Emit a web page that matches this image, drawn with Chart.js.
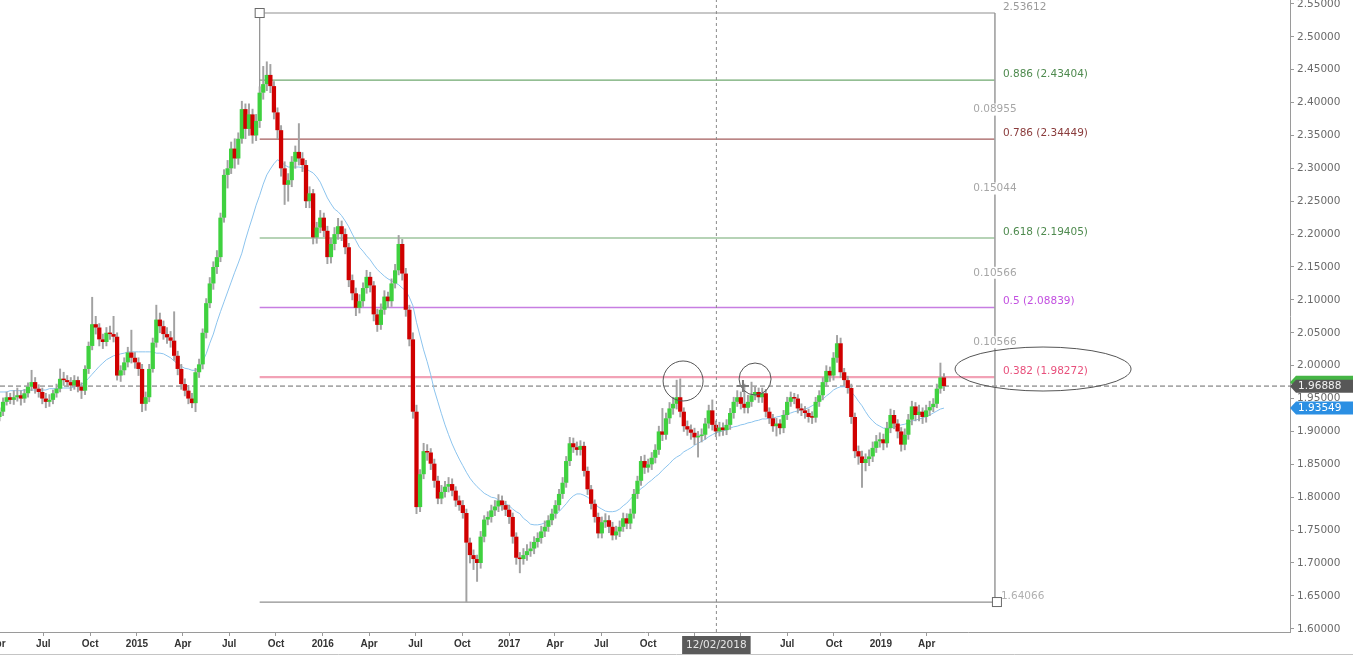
<!DOCTYPE html>
<html><head><meta charset="utf-8">
<script src="https://cdn.jsdelivr.net/npm/chart.js@4.4.1/dist/chart.umd.min.js"></script>
<style>html,body{margin:0;padding:0;background:#fff;overflow:hidden}canvas{display:block}</style>
</head><body>
<canvas id="c" width="1353" height="656"></canvas>
<script>
// ---- DATA (weekly candles, week 0 = 2014-04-06) ----
const startDate = '2014-04-06';
const opens = [1.922,1.930,1.945,1.952,1.948,1.952,1.955,1.950,1.958,1.968,
1.975,1.965,1.960,1.950,1.945,1.948,1.958,1.965,1.980,1.978,
1.975,1.970,1.978,1.968,1.962,1.995,2.030,2.063,2.058,2.040,
2.036,2.050,2.048,2.044,1.985,1.993,2.005,2.020,2.012,2.005,
1.995,1.942,1.952,1.995,2.035,2.070,2.060,2.048,2.043,2.038,
2.015,1.995,1.972,1.962,1.950,1.943,1.990,2.002,2.050,2.095,
2.125,2.150,2.165,2.225,2.290,2.300,2.330,2.315,2.345,2.390,
2.360,2.382,2.350,2.372,2.415,2.428,2.442,2.425,2.385,2.358,
2.300,2.275,2.282,2.310,2.325,2.315,2.305,2.250,2.262,2.195,
2.210,2.225,2.205,2.165,2.185,2.200,2.212,2.200,2.180,2.130,
2.110,2.088,2.098,2.118,2.135,2.122,2.078,2.062,2.085,2.105,
2.098,2.125,2.145,2.185,2.140,2.085,2.040,1.930,1.785,1.835,
1.870,1.868,1.851,1.825,1.798,1.808,1.816,1.820,1.810,1.795,
1.788,1.776,1.731,1.712,1.706,1.700,1.740,1.766,1.770,1.780,
1.786,1.795,1.788,1.781,1.770,1.740,1.708,1.706,1.712,1.718,
1.722,1.732,1.738,1.748,1.755,1.765,1.775,1.788,1.805,1.822,
1.855,1.882,1.876,1.872,1.878,1.840,1.812,1.790,1.770,1.745,
1.762,1.765,1.755,1.742,1.748,1.755,1.768,1.760,1.775,1.805,
1.825,1.855,1.845,1.850,1.860,1.872,1.900,1.895,1.920,1.935,
1.942,1.952,1.930,1.908,1.903,1.898,1.891,1.893,1.895,1.912,
1.932,1.910,1.900,1.906,1.902,1.910,1.928,1.945,1.952,1.942,
1.936,1.945,1.955,1.960,1.952,1.958,1.930,1.920,1.908,1.912,
1.905,1.925,1.945,1.952,1.950,1.935,1.932,1.928,1.922,1.921,
1.945,1.955,1.975,1.992,1.985,2.012,2.034,1.990,1.978,1.966,
1.922,1.870,1.862,1.852,1.858,1.862,1.875,1.885,1.888,1.882,
1.905,1.925,1.912,1.900,1.880,1.895,1.918,1.938,1.925,1.930,
1.922,1.932,1.937,1.942,1.965,1.982];
const highs = [1.936,1.951,1.960,1.958,1.962,1.966,1.962,1.964,1.974,1.993,
1.982,1.971,1.966,1.958,1.956,1.963,1.972,1.995,1.990,1.985,
1.982,1.985,1.983,1.974,2.000,2.036,2.104,2.075,2.064,2.048,
2.058,2.060,2.075,2.050,2.000,2.012,2.028,2.054,2.020,2.012,
2.002,1.960,2.002,2.042,2.092,2.080,2.068,2.058,2.052,2.082,
2.022,2.002,1.980,1.970,1.958,1.996,2.010,2.056,2.102,2.134,
2.158,2.175,2.232,2.298,2.312,2.340,2.345,2.354,2.402,2.398,
2.398,2.390,2.382,2.424,2.455,2.462,2.458,2.432,2.392,2.365,
2.310,2.292,2.318,2.334,2.368,2.324,2.312,2.272,2.268,2.218,
2.236,2.232,2.212,2.194,2.210,2.224,2.220,2.208,2.186,2.138,
2.118,2.108,2.126,2.145,2.142,2.128,2.086,2.094,2.114,2.112,
2.132,2.154,2.198,2.192,2.148,2.092,2.050,1.940,1.842,1.882,
1.880,1.874,1.858,1.832,1.818,1.824,1.830,1.828,1.816,1.802,
1.795,1.782,1.738,1.720,1.712,1.748,1.772,1.778,1.788,1.795,
1.804,1.802,1.794,1.788,1.776,1.746,1.716,1.722,1.728,1.732,
1.740,1.746,1.756,1.764,1.772,1.782,1.795,1.812,1.830,1.862,
1.891,1.890,1.884,1.886,1.884,1.846,1.818,1.796,1.776,1.770,
1.775,1.772,1.762,1.756,1.764,1.776,1.775,1.782,1.812,1.832,
1.862,1.864,1.858,1.868,1.880,1.908,1.935,1.928,1.944,1.952,
1.978,1.980,1.936,1.916,1.910,1.905,1.900,1.904,1.920,1.940,
1.948,1.916,1.914,1.913,1.918,1.935,1.952,1.962,1.960,1.972,
1.955,1.975,1.968,1.966,1.966,1.964,1.936,1.926,1.920,1.918,
1.932,1.952,1.960,1.958,1.956,1.942,1.938,1.934,1.930,1.952,
1.962,1.982,2.000,1.998,2.020,2.046,2.042,1.996,1.984,1.972,
1.928,1.878,1.870,1.866,1.872,1.884,1.894,1.898,1.896,1.914,
1.934,1.932,1.918,1.906,1.904,1.926,1.946,1.944,1.940,1.936,
1.940,1.946,1.950,1.972,2.004,1.988];
const lows = [1.916,1.924,1.940,1.942,1.941,1.946,1.940,1.944,1.952,1.962,
1.958,1.952,1.942,1.936,1.938,1.942,1.952,1.960,1.970,1.968,
1.962,1.964,1.960,1.950,1.956,1.988,2.024,2.048,2.030,2.026,
2.030,2.040,2.036,1.978,1.976,1.986,1.998,2.004,1.996,1.985,
1.930,1.932,1.945,1.990,2.028,2.050,2.040,2.034,2.028,2.008,
1.986,1.964,1.954,1.942,1.936,1.930,1.982,1.995,2.042,2.088,
2.116,2.140,2.158,2.218,2.270,2.292,2.300,2.306,2.338,2.345,
2.350,2.338,2.342,2.362,2.405,2.418,2.415,2.375,2.345,2.288,
2.245,2.250,2.272,2.300,2.305,2.295,2.240,2.240,2.185,2.186,
2.202,2.196,2.155,2.156,2.176,2.192,2.190,2.170,2.120,2.100,
2.076,2.080,2.090,2.110,2.112,2.068,2.052,2.055,2.078,2.088,
2.090,2.118,2.138,2.130,2.075,2.030,1.920,1.775,1.778,1.828,
1.856,1.842,1.815,1.790,1.790,1.800,1.808,1.802,1.786,1.780,
1.768,1.641,1.700,1.690,1.672,1.692,1.732,1.758,1.762,1.772,
1.778,1.780,1.772,1.760,1.730,1.698,1.685,1.698,1.704,1.710,
1.714,1.724,1.730,1.740,1.748,1.758,1.768,1.780,1.798,1.815,
1.848,1.868,1.864,1.864,1.832,1.804,1.782,1.762,1.738,1.738,
1.754,1.746,1.735,1.736,1.740,1.748,1.752,1.752,1.768,1.798,
1.818,1.836,1.838,1.842,1.852,1.865,1.886,1.888,1.912,1.926,
1.934,1.922,1.900,1.894,1.888,1.880,1.861,1.884,1.888,1.905,
1.902,1.892,1.893,1.894,1.895,1.903,1.920,1.938,1.934,1.928,
1.928,1.938,1.948,1.944,1.944,1.922,1.912,1.900,1.893,1.896,
1.898,1.918,1.938,1.942,1.928,1.924,1.920,1.914,1.912,1.914,
1.938,1.948,1.968,1.976,1.978,2.005,1.982,1.970,1.958,1.912,
1.860,1.850,1.815,1.840,1.848,1.854,1.868,1.876,1.872,1.876,
1.898,1.904,1.890,1.870,1.872,1.888,1.910,1.916,1.916,1.912,
1.914,1.924,1.930,1.936,1.958,1.962];
const closes = [1.930,1.945,1.952,1.948,1.952,1.955,1.950,1.958,1.968,1.975,
1.965,1.960,1.950,1.945,1.948,1.958,1.965,1.980,1.978,1.975,
1.970,1.978,1.968,1.962,1.995,2.030,2.063,2.058,2.040,2.036,
2.050,2.048,2.044,1.985,1.993,2.005,2.020,2.012,2.005,1.995,
1.942,1.952,1.995,2.035,2.070,2.060,2.048,2.043,2.038,2.015,
1.995,1.972,1.962,1.950,1.943,1.990,2.002,2.050,2.095,2.125,
2.150,2.165,2.225,2.290,2.300,2.330,2.315,2.345,2.390,2.360,
2.382,2.350,2.372,2.415,2.428,2.442,2.425,2.385,2.358,2.300,
2.275,2.282,2.310,2.325,2.315,2.305,2.250,2.262,2.195,2.210,
2.225,2.205,2.165,2.185,2.200,2.212,2.200,2.180,2.130,2.110,
2.088,2.098,2.118,2.135,2.122,2.078,2.062,2.085,2.105,2.098,
2.125,2.145,2.185,2.140,2.085,2.040,1.930,1.785,1.835,1.870,
1.868,1.851,1.825,1.798,1.808,1.816,1.820,1.810,1.795,1.788,
1.776,1.731,1.712,1.706,1.700,1.740,1.766,1.770,1.780,1.786,
1.795,1.788,1.781,1.770,1.740,1.708,1.706,1.712,1.718,1.722,
1.732,1.738,1.748,1.755,1.765,1.775,1.788,1.805,1.822,1.855,
1.882,1.876,1.872,1.878,1.840,1.812,1.790,1.770,1.745,1.762,
1.765,1.755,1.742,1.748,1.755,1.768,1.760,1.775,1.805,1.825,
1.855,1.845,1.850,1.860,1.872,1.900,1.895,1.920,1.935,1.942,
1.952,1.930,1.908,1.903,1.898,1.891,1.893,1.895,1.912,1.932,
1.910,1.900,1.906,1.902,1.910,1.928,1.945,1.952,1.942,1.936,
1.945,1.955,1.960,1.952,1.958,1.930,1.920,1.908,1.912,1.905,
1.925,1.945,1.952,1.950,1.935,1.932,1.928,1.922,1.921,1.945,
1.955,1.975,1.992,1.985,2.012,2.034,1.990,1.978,1.966,1.922,
1.870,1.862,1.852,1.858,1.862,1.875,1.885,1.888,1.882,1.905,
1.925,1.912,1.900,1.880,1.895,1.918,1.938,1.925,1.930,1.922,
1.932,1.937,1.942,1.965,1.982,1.96888];
const maValues = [1.960,1.960,1.960,1.962,1.962,1.962,1.962,1.963,1.963,1.963,
1.963,1.963,1.963,1.963,1.965,1.965,1.965,1.966,1.966,1.966,
1.966,1.968,1.969,1.972,1.975,1.981,1.987,1.993,1.999,2.004,
2.009,2.012,2.015,2.016,2.018,2.019,2.021,2.021,2.021,2.021,
2.021,2.021,2.021,2.021,2.019,2.019,2.018,2.015,2.012,2.007,
2.003,1.999,1.996,1.995,1.993,1.993,1.996,2.006,2.018,2.034,
2.048,2.066,2.082,2.097,2.112,2.127,2.142,2.156,2.171,2.191,
2.209,2.226,2.244,2.259,2.276,2.290,2.299,2.307,2.313,2.310,
2.305,2.302,2.302,2.302,2.302,2.301,2.299,2.296,2.293,2.287,
2.279,2.267,2.255,2.246,2.238,2.234,2.228,2.220,2.211,2.200,
2.190,2.180,2.174,2.167,2.161,2.153,2.146,2.141,2.136,2.132,
2.129,2.126,2.123,2.118,2.114,2.104,2.091,2.066,2.045,2.024,
2.006,1.986,1.963,1.945,1.927,1.910,1.895,1.881,1.869,1.858,
1.848,1.838,1.829,1.822,1.816,1.811,1.806,1.803,1.800,1.799,
1.796,1.793,1.790,1.787,1.782,1.778,1.775,1.768,1.764,1.759,
1.758,1.758,1.759,1.761,1.764,1.768,1.773,1.778,1.784,1.790,
1.797,1.802,1.805,1.805,1.803,1.800,1.796,1.791,1.785,1.782,
1.779,1.778,1.778,1.779,1.782,1.787,1.791,1.797,1.803,1.808,
1.813,1.817,1.822,1.826,1.831,1.835,1.841,1.846,1.851,1.857,
1.861,1.864,1.869,1.872,1.875,1.879,1.882,1.885,1.888,1.892,
1.895,1.898,1.899,1.901,1.902,1.905,1.907,1.908,1.910,1.911,
1.913,1.914,1.916,1.917,1.919,1.919,1.920,1.920,1.922,1.923,
1.925,1.927,1.928,1.930,1.931,1.933,1.934,1.936,1.939,1.942,
1.946,1.949,1.954,1.958,1.963,1.966,1.968,1.968,1.966,1.960,
1.954,1.946,1.939,1.930,1.922,1.916,1.911,1.908,1.905,1.905,
1.905,1.907,1.908,1.910,1.911,1.913,1.916,1.917,1.919,1.920,
1.923,1.925,1.928,1.931,1.934,1.93549];
const xTickDates = ['2014-04-01','2014-07-01','2014-10-01','2015-01-01','2015-04-01','2015-07-01','2015-10-01','2016-01-01','2016-04-01','2016-07-01','2016-10-01','2017-01-01','2017-04-01','2017-07-01','2017-10-01','2018-01-01','2018-04-01','2018-07-01','2018-10-01','2019-01-01','2019-04-01'];
const xTickLabels = ['Apr','Jul','Oct','2015','Apr','Jul','Oct','2016','Apr','Jul','Oct','2017','Apr','Jul','Oct','2018','Apr','Jul','Oct','2019','Apr'];
const yTickValues = [1.60,1.65,1.70,1.75,1.80,1.85,1.90,1.95,2.00,2.05,2.10,2.15,2.20,2.25,2.30,2.35,2.40,2.45,2.50,2.55];
const fibHigh = 2.53612, fibLow = 1.64066;
const fibRatioLabels = ['0.886','0.786','0.618','0.5','0.382'];
const fibPrices = [2.43404,2.34449,2.19405,2.08839,1.98272];
const fibGapLabels = ['0.08955','0.15044','0.10566','0.10566'];
const lastPrice = 1.96888, maLast = 1.93549;
const crosshairDate = '2018-02-12', crosshairLabel = '12/02/2018';

// ---- layout / style ----
const X_MIN = 0.14, X_MAX = 362.09, Y_MIN = 1.5951, Y_MAX = 2.5559;
const fibStartIdx = 73, fibEndIdx = 279.3, fibAnchorLow = 2.40;
const GREEN = '#3fd13f', RED = '#d00000', WICK = '#a2a2a2';
const fibLineColors = ['#6fa86f','#a35c5c','#6fa86f','#c77ee2','#f2a2b6'];
const fibTextColors = ['#4e8a4e','#8a3c3c','#4e8a4e','#c24fe0','#e8507c'];
const fibLineWidths = [1.2,1.2,1.2,1.5,2.2];

const dayMs = 864e5;
const weekIdx = d => (Date.parse(d) - Date.parse(startDate)) / (7 * dayMs);
const xTickIdx = xTickDates.map(weekIdx);
const crossIdx = weekIdx(crosshairDate);

const bodyData = closes.map((c, i) => ({x: i, y: [opens[i], c]}));
const wickData = closes.map((c, i) => ({x: i, y: [lows[i], highs[i]]}));
const bodyColors = closes.map((c, i) => c >= opens[i] ? GREEN : RED);
const maData = maValues.map((v, i) => ({x: i, y: v}));

const lineDs = (data, color, width, order, dash) => ({type: 'line', data, borderColor: color, borderWidth: width, pointRadius: 0, borderDash: dash || [], order, fill: false, tension: 0});

const datasets = [
  lineDs([{x: crossIdx, y: Y_MIN}, {x: crossIdx, y: Y_MAX}], '#8a8a8a', 1, -1, [3, 3]),
  {type: 'bar', data: bodyData, backgroundColor: bodyColors, grouped: false, barPercentage: 1.2, categoryPercentage: 1, minBarLength: 1.5, order: 0},
  {type: 'bar', data: wickData, backgroundColor: WICK, grouped: false, maxBarThickness: 1.3, barPercentage: 1, categoryPercentage: 1, order: 1},
  lineDs(maData, '#8cc4ee', 1, 2),
  lineDs([{x: X_MIN, y: lastPrice}, {x: X_MAX, y: lastPrice}], '#a9a9a9', 1.6, 6, [5, 3]),
  lineDs([{x: fibStartIdx, y: fibHigh}, {x: fibEndIdx, y: fibHigh}], '#8f8f8f', 1.2, 3),
  lineDs([{x: fibStartIdx, y: fibLow}, {x: fibEndIdx, y: fibLow}], '#8f8f8f', 1.2, 3),
  lineDs([{x: fibStartIdx, y: fibHigh}, {x: fibStartIdx, y: fibAnchorLow}], '#8f8f8f', 1.2, 3),
  lineDs([{x: fibEndIdx, y: fibHigh}, {x: fibEndIdx, y: fibLow}], '#a0a0a0', 1.6, 3),
];
fibPrices.forEach((p, k) => datasets.push(lineDs([{x: fibStartIdx, y: p}, {x: fibEndIdx, y: p}], fibLineColors[k], fibLineWidths[k], 4)));

const FONT = '"DejaVu Sans", sans-serif';

function tag(ctx, x0, x1, yc, h, bg, text, fg) {
  ctx.beginPath();
  ctx.moveTo(x0, yc); ctx.lineTo(x0 + 6, yc - h / 2); ctx.lineTo(x1, yc - h / 2);
  ctx.lineTo(x1, yc + h / 2); ctx.lineTo(x0 + 6, yc + h / 2); ctx.closePath();
  ctx.fillStyle = bg; ctx.fill();
  if (text) {
    ctx.fillStyle = fg; ctx.font = '10.5px ' + FONT; ctx.textAlign = 'left'; ctx.textBaseline = 'middle';
    ctx.fillText(text, x0 + 8, yc + 0.5);
  }
}

const overlay = {
  id: 'overlay',
  afterDatasetsDraw(chart) {
    const {ctx, scales: {x, y}} = chart;
    const X = v => x.getPixelForValue(v), Y = v => y.getPixelForValue(v);
    ctx.save();
    const vx = X(fibEndIdx);
    ctx.font = '10.5px ' + FONT; ctx.textAlign = 'left'; ctx.textBaseline = 'middle';
    fibPrices.forEach((p, k) => {
      ctx.fillStyle = fibTextColors[k];
      ctx.fillText(fibRatioLabels[k] + ' (' + p.toFixed(5) + ')', vx + 8, Y(p) - 6);
    });
    ctx.fillStyle = '#9a9a9a';
    ctx.fillText(fibHigh.toFixed(5), vx + 8, Y(fibHigh) - 6);
    ctx.fillStyle = '#b0b0b0';
    ctx.fillText(fibLow.toFixed(5), vx + 6, Y(fibLow) - 6);
    ctx.textAlign = 'center';
    fibGapLabels.forEach((t, k) => {
      const yy = (Y(fibPrices[k]) + Y(fibPrices[k + 1])) / 2;
      const w = ctx.measureText(t).width;
      ctx.fillStyle = '#fff'; ctx.fillRect(vx - w / 2 - 1, yy - 6, w + 2, 12);
      ctx.fillStyle = '#a6a6a6'; ctx.fillText(t, vx, yy);
    });
    ctx.lineWidth = 1; ctx.strokeStyle = '#6a6a6a'; ctx.fillStyle = '#fff';
    [[X(fibStartIdx), Y(fibHigh)], [vx + 2, Y(fibLow)]].forEach(([sx, sy]) => {
      ctx.fillRect(sx - 4, sy - 4, 9, 9); ctx.strokeRect(sx - 4.5, sy - 4.5, 9, 9);
    });
    ctx.strokeStyle = '#555'; ctx.lineWidth = 1;
    ctx.beginPath(); ctx.ellipse(X(292.8), Y(1.9949), 88, 22, 0, 0, Math.PI * 2); ctx.stroke();
    ctx.beginPath(); ctx.arc(X(191.8), Y(1.9767), 20, 0, Math.PI * 2); ctx.stroke();
    ctx.beginPath(); ctx.arc(X(212.0), Y(1.9797), 16, 0, Math.PI * 2); ctx.stroke();
    const cx = X(208.6), cy = Y(1.9691);
    ctx.strokeStyle = '#7a7a7a'; ctx.lineWidth = 2;
    ctx.beginPath(); ctx.moveTo(cx - 6, cy); ctx.lineTo(cx + 6, cy); ctx.moveTo(cx, cy - 6); ctx.lineTo(cx, cy + 6); ctx.stroke();
    ctx.restore();
  },
  afterDraw(chart) {
    const {ctx, scales: {x, y}, chartArea} = chart;
    const X = v => x.getPixelForValue(v), Y = v => y.getPixelForValue(v);
    ctx.save();
    const x0 = chartArea.right, x1 = chart.width;
    tag(ctx, x0, x1, Y(lastPrice) - 4, 13, '#45b545', '', '');
    tag(ctx, x0, x1, Y(lastPrice), 13, '#575757', lastPrice.toFixed(5), '#f2f2f2');
    tag(ctx, x0, x1, Y(maLast), 13, '#2b8fe3', maLast.toFixed(5), '#ffffff');
    const chx = X(crossIdx);
    ctx.font = '10.5px ' + FONT;
    const w = ctx.measureText(crosshairLabel).width + 8;
    ctx.fillStyle = '#5a5a5a';
    ctx.fillRect(chx - w / 2, chartArea.bottom + 4, w, 18);
    ctx.fillStyle = '#e6e6e6'; ctx.textAlign = 'center'; ctx.textBaseline = 'middle';
    ctx.fillText(crosshairLabel, chx, chartArea.bottom + 13);
    ctx.strokeStyle = '#c4c4c4'; ctx.lineWidth = 1;
    ctx.beginPath(); ctx.moveTo(0, chart.height - 1.5); ctx.lineTo(chart.width, chart.height - 1.5); ctx.stroke();
    ctx.restore();
  }
};

Chart.defaults.font.family = FONT;
new Chart(document.getElementById('c'), {
  type: 'bar',
  data: {datasets},
  options: {
    responsive: false, devicePixelRatio: 1, animation: false, events: [],
    layout: {padding: 0},
    plugins: {legend: {display: false}, tooltip: {enabled: false}},
    scales: {
      x: {
        type: 'linear', min: X_MIN, max: X_MAX, offset: false, bounds: 'data',
        afterBuildTicks: s => { s.ticks = xTickIdx.map(v => ({value: v})); },
        afterFit: s => { s.height = 24; s.paddingLeft = 0; s.paddingRight = 0; },
        ticks: {autoSkip: false, maxRotation: 0, minRotation: 0, padding: 2, color: '#333',
          font: {family: '"Liberation Sans Narrow", "Liberation Sans", sans-serif', size: 10, weight: 'bold'},
          callback: (v, i) => xTickLabels[i]},
        grid: {display: true, drawOnChartArea: false, drawTicks: true, tickLength: 4, color: '#9a9a9a', offset: false},
        border: {display: true, color: '#9a9a9a', width: 1}
      },
      y: {
        type: 'linear', position: 'right', min: Y_MIN, max: Y_MAX, beginAtZero: false, bounds: 'data',
        afterBuildTicks: s => { s.ticks = yTickValues.map(v => ({value: v})); },
        afterFit: s => { s.width = 63; s.paddingTop = 0; s.paddingBottom = 0; },
        ticks: {autoSkip: false, padding: 3, color: '#6a6a6a', font: {size: 10.5}, callback: v => Number(v).toFixed(5)},
        grid: {display: true, drawOnChartArea: false, drawTicks: true, tickLength: 4, color: '#9a9a9a'},
        border: {display: true, color: '#9a9a9a', width: 1}
      }
    }
  },
  plugins: [overlay]
});
</script>
</body></html>
